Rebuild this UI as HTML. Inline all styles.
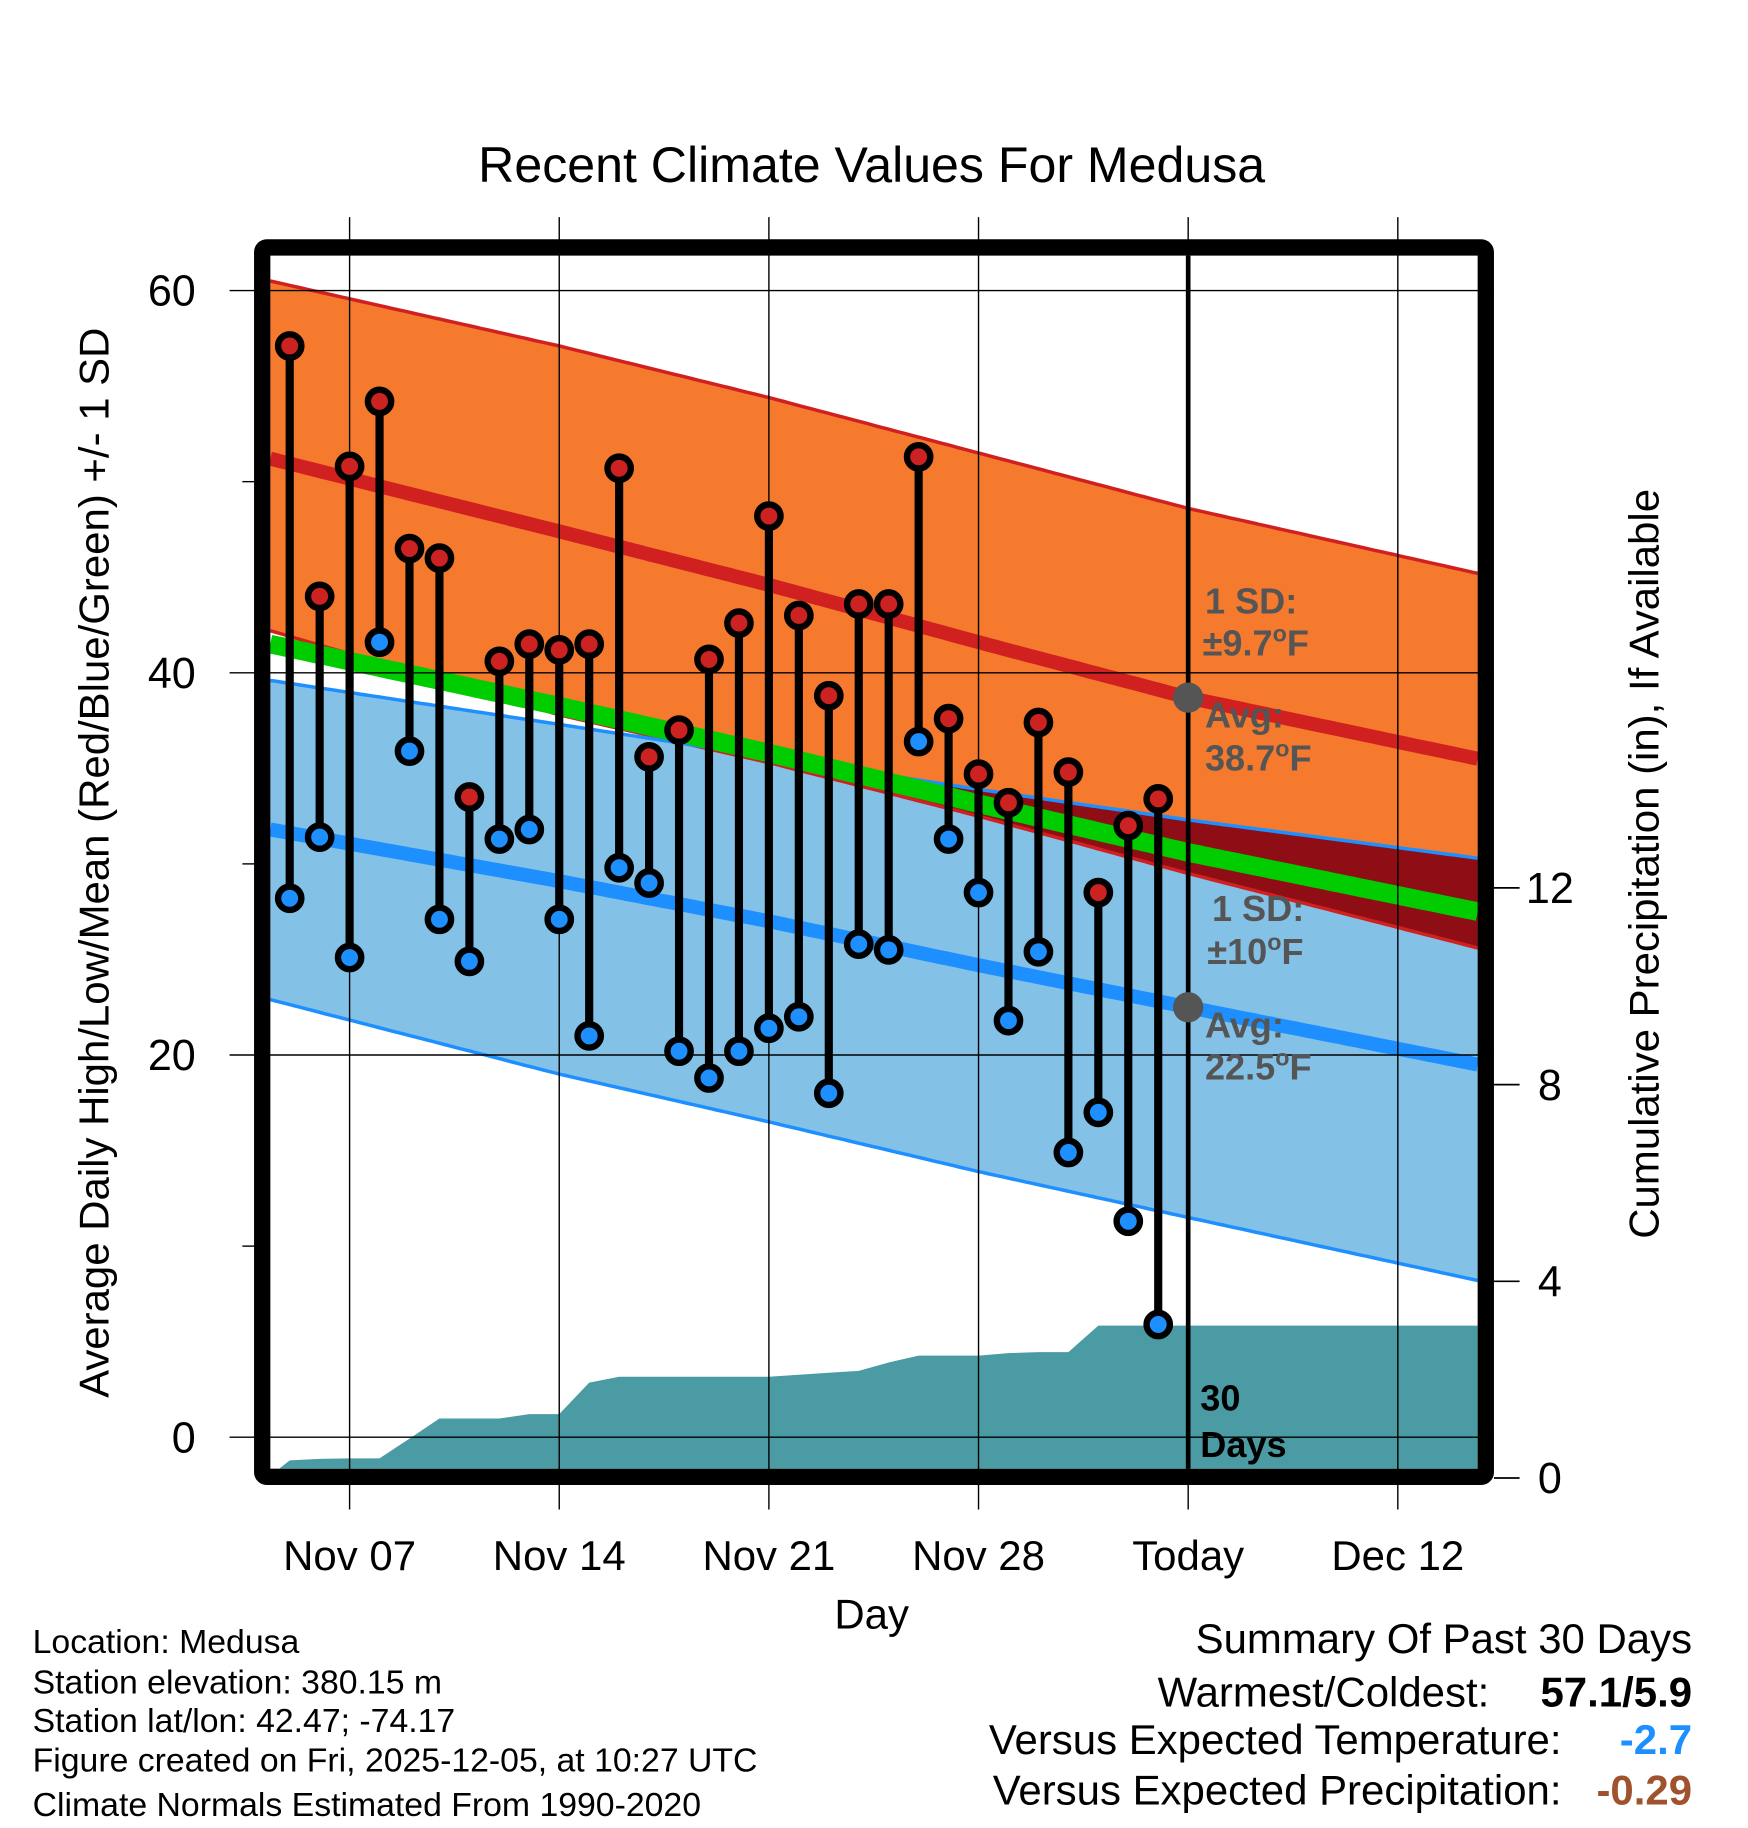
<!DOCTYPE html>
<html><head><meta charset="utf-8"><style>
html,body{margin:0;padding:0;background:#fff;}
svg{display:block;font-family:"Liberation Sans",Arial,sans-serif;}
</style></head><body>
<svg id="chart" width="1748" height="1828" viewBox="0 0 1500 1568" xmlns="http://www.w3.org/2000/svg">
<g id="g"></g>
</svg>
<script>
// Data
const dayLabels = ["Nov 07","Nov 14","Nov 21","Nov 28","Today","Dec 12"];
const dayTicks = [0,7,14,21,28,35];
const obsDays = [-2,-1,0,1,2,3,4,5,6,7,8,9,10,11,12,13,14,15,16,17,18,19,20,21,22,23,24,25,26,27];
const highs = [57.1,44.0,50.8,54.2,46.5,46.0,33.5,40.6,41.5,41.2,41.5,50.7,35.6,37.0,40.7,42.6,48.2,43.0,38.8,43.6,43.6,51.3,37.6,34.7,33.2,37.4,34.8,28.5,32.0,33.4];
const lows = [28.2,31.4,25.1,41.6,35.9,27.1,24.9,31.3,31.8,27.1,21.0,29.8,29.0,20.2,18.8,20.2,21.4,22.0,18.0,25.8,25.5,36.4,31.3,28.5,21.8,25.4,14.9,17.0,11.3,5.9];
const precip = [0.36,0.39,0.40,0.40,0.80,1.21,1.21,1.21,1.30,1.30,1.94,2.06,2.06,2.06,2.06,2.06,2.06,2.10,2.14,2.18,2.35,2.49,2.49,2.49,2.54,2.56,2.56,3.10,3.10,3.10];
const normDays = [-2.65,7,14,21,28,37.67];
const highPlus = [60.5,57.1,54.4,51.5,48.6,45.2];
const highMean = [51.2,47.4,44.6,41.6,38.7,35.5];
const highMinus = [42.2,37.8,35.3,32.5,29.5,25.6];
const lowPlus = [39.6,37.3,35.6,33.9,32.3,30.3];
const lowMean = [31.8,29.1,27.0,24.7,22.5,19.5];
const lowMinus = [22.9,19.0,16.5,13.9,11.5,8.2];
const yTicks = [0,20,40,60];
const pTicks = [0,4,8,12];

const NS="http://www.w3.org/2000/svg";
const g=document.getElementById('g');
const X0=232,X1=1268,Y0=219,Y1=1260;
const xS=d=>300+25.7*d;
const yS=v=>1233-16.4*v;
const pS=v=>1268-42.2*v;
function el(t,a,p){const e=document.createElementNS(NS,t);for(const k in a)e.setAttribute(k,a[k]);(p||g).appendChild(e);return e;}
function interp(arr,d){for(let i=0;i<normDays.length-1;i++){if(d<=normDays[i+1]||i==normDays.length-2){const t=(d-normDays[i])/(normDays[i+1]-normDays[i]);return arr[i]+t*(arr[i+1]-arr[i]);}}}
const samples=[];for(let i=0;i<=200;i++)samples.push(normDays[0]+(normDays[5]-normDays[0])*i/200);
function linePts(arr){return samples.map(d=>xS(d).toFixed(1)+","+yS(interp(arr,d)).toFixed(1)).join(" ");}
function bandPts(a,b){return samples.map(d=>xS(d)+","+yS(interp(a,d))).concat(samples.slice().reverse().map(d=>xS(d)+","+yS(interp(b,d)))).join(" ");}

let t=el('text',{x:748,y:156,'font-size':43,'text-anchor':'middle'});t.textContent="Recent Climate Values For Medusa";



let e=el('polygon',{points:bandPts(highPlus,highMinus),fill:'#f57a2e'});


e=el('polygon',{points:bandPts(lowPlus,lowMinus),fill:'#84c1e7'});


const ovTop=samples.map(d=>xS(d)+","+yS(interp(lowPlus,d)));
const ovBot=samples.slice().reverse().map(d=>{const a=interp(lowPlus,d),b=interp(highMinus,d);return xS(d)+","+yS(Math.min(a,b));});
e=el('polygon',{points:ovTop.concat(ovBot).join(" "),fill:'#8f0d14'});


const meanArr=highMean.map((v,i)=>(v+lowMean[i])/2);
e=el('polyline',{points:linePts(highPlus),fill:'none',stroke:'#d02020','stroke-width':3});


e=el('polyline',{points:linePts(highMinus),fill:'none',stroke:'#d02020','stroke-width':3});


e=el('polyline',{points:linePts(lowPlus),fill:'none',stroke:'#1e8fff','stroke-width':3});


e=el('polyline',{points:linePts(lowMinus),fill:'none',stroke:'#1e8fff','stroke-width':3});


e=el('polyline',{points:linePts(meanArr),fill:'none',stroke:'#00cc00','stroke-width':16});


e=el('polyline',{points:linePts(highMean),fill:'none',stroke:'#d02020','stroke-width':12});


e=el('polyline',{points:linePts(lowMean),fill:'none',stroke:'#1e8fff','stroke-width':12});



let pp=[X0+","+Y1,X0+","+pS(0.05)];
obsDays.forEach((d,i)=>pp.push(xS(d)+","+pS(precip[i])));
pp.push(X1+","+pS(precip[precip.length-1]));pp.push(X1+","+Y1);
e=el('polygon',{points:pp.join(" "),fill:'#4a9ba3'});



yTicks.forEach(v=>{const l=el('line',{x1:197,x2:1282,y1:yS(v),y2:yS(v),stroke:'#000','stroke-width':1.2});


const tx=el('text',{x:168,y:yS(v)+13,'font-size':37,'text-anchor':'end'});tx.textContent=v;

});
[10,30,50].forEach(v=>{const l=el('line',{x1:208,x2:220,y1:yS(v),y2:yS(v),stroke:'#000','stroke-width':1.2});

});
dayTicks.forEach((d,i)=>{const l=el('line',{x1:xS(d),x2:xS(d),y1:186,y2:1295,stroke:'#000','stroke-width':1.2});


const tx=el('text',{x:xS(d),y:1347,'font-size':36,'text-anchor':'middle'});tx.textContent=dayLabels[i];

});
pTicks.forEach(v=>{const l=el('line',{x1:1282,x2:1304,y1:pS(v),y2:pS(v),stroke:'#000','stroke-width':1.5});


const tx=el('text',{x:1330,y:pS(v)+13,'font-size':37,'text-anchor':'middle'});tx.textContent=v;

});

e=el('line',{x1:xS(28),x2:xS(28),y1:Y0,y2:Y1,stroke:'#000','stroke-width':4});



obsDays.forEach((d,i)=>{const x=xS(d);
const s=el('line',{x1:x,x2:x,y1:yS(highs[i]),y2:yS(lows[i]),stroke:'#000','stroke-width':7});

});
obsDays.forEach((d,i)=>{const x=xS(d);
const h=el('circle',{cx:x,cy:yS(highs[i]),r:10,fill:'#cc2222',stroke:'#000','stroke-width':5.5});


const lo=el('circle',{cx:x,cy:yS(lows[i]),r:10,fill:'#1e8fff',stroke:'#000','stroke-width':5.5});

});

[38.7,22.5].forEach(v=>{const c=el('circle',{cx:xS(28),cy:yS(v),r:13,fill:'#555'});

});

function ann(txt,x,y,col,name){const tx=el('text',{x:x,y:y,'font-size':31,'font-weight':'bold',fill:col});tx.innerHTML=txt;

}
ann('1 SD:',1034,526,'#555','high-sd-label');
ann('±9.7<tspan dy="-12" font-size="20">o</tspan><tspan dy="12">F</tspan>',1032,562,'#555','high-sd-value');
ann('Avg:',1034,624,'#555','high-avg-label');
ann('38.7<tspan dy="-12" font-size="20">o</tspan><tspan dy="12">F</tspan>',1034,661,'#555','high-avg-value');
ann('1 SD:',1040,790,'#555','low-sd-label');
ann('±10<tspan dy="-12" font-size="20">o</tspan><tspan dy="12">F</tspan>',1036,827,'#555','low-sd-value');
ann('Avg:',1034,890,'#555','low-avg-label');
ann('22.5<tspan dy="-12" font-size="20">o</tspan><tspan dy="12">F</tspan>',1034,926,'#555','low-avg-value');
ann('30',1030,1210,'#000','days-count');
ann('Days',1030,1250,'#000','days-label');

e=el('rect',{x:225,y:212,width:1050,height:1055,fill:'none',stroke:'#000','stroke-width':14,rx:4});



t=el('text',{x:0,y:0,'font-size':36,'text-anchor':'middle',transform:'translate(93,740) rotate(-90)'});t.textContent="Average Daily High/Low/Mean (Red/Blue/Green) +/- 1 SD";


t=el('text',{x:0,y:0,'font-size':36,'text-anchor':'middle',transform:'translate(1423,741) rotate(-90)'});t.textContent="Cumulative Precipitation (in), If Available";


t=el('text',{x:748,y:1397,'font-size':36,'text-anchor':'middle'});t.textContent="Day";



const foot=["Location: Medusa","Station elevation: 380.15 m","Station lat/lon: 42.47; -74.17","Figure created on Fri, 2025-12-05, at 10:27 UTC","Climate Normals Estimated From 1990-2020"];
const fy=[1418,1453,1486,1520,1558];
foot.forEach((s,i)=>{const tx=el('text',{x:28,y:fy[i],'font-size':29});tx.textContent=s;

});
function rt(s,x,y,opts,name){const tx=el('text',Object.assign({x:x,y:y,'font-size':36,'text-anchor':'end'},opts));tx.textContent=s;

}
rt("Summary Of Past 30 Days",1452,1418,{},'summary-title');
rt("Warmest/Coldest:",1278,1464,{},'warmest-coldest-label');
rt("57.1/5.9",1452,1464,{'font-weight':'bold'},'warmest-coldest-value');
rt("Versus Expected Temperature:",1340,1505,{},'temp-anomaly-label');
rt("-2.7",1452,1505,{'font-weight':'bold',fill:'#1e8fff'},'temp-anomaly-value');
rt("Versus Expected Precipitation:",1340,1548,{},'precip-anomaly-label');
rt("-0.29",1452,1548,{'font-weight':'bold',fill:'#a0522d'},'precip-anomaly-value');
</script>
</body></html>
